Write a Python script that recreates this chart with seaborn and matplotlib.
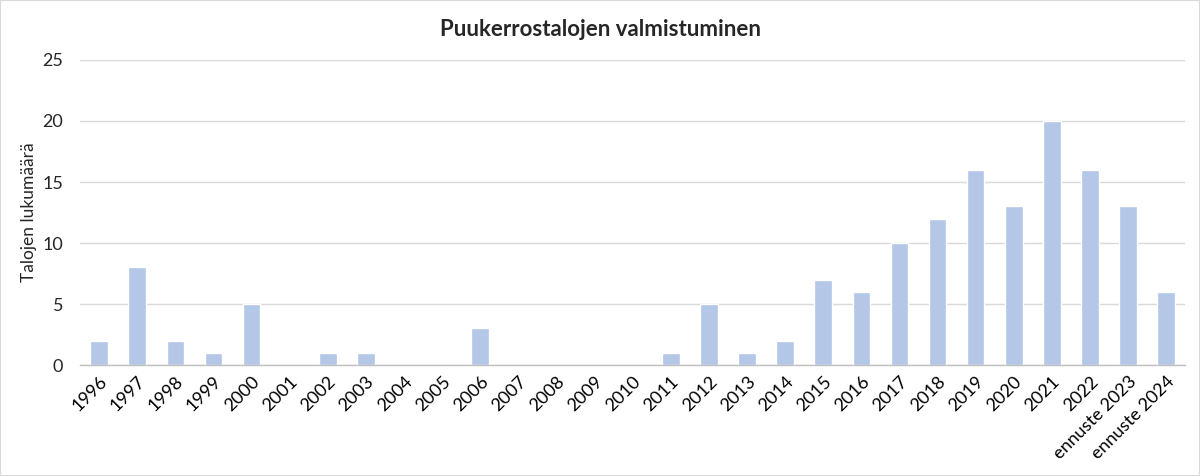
import numpy as np
import pandas as pd
import matplotlib
matplotlib.use('Agg')
import matplotlib.pyplot as plt
import seaborn as sns
from matplotlib.ticker import FixedLocator

# Data
years = ['1996', '1997', '1998', '1999', '2000', '2001', '2002', '2003', '2004',
         '2005', '2006', '2007', '2008', '2009', '2010', '2011', '2012', '2013',
         '2014', '2015', '2016', '2017', '2018', '2019', '2020', '2021', '2022',
         'ennuste 2023', 'ennuste 2024']
counts = [2, 8, 2, 1, 5, 0, 1, 1, 0, 0, 3, 0, 0, 0, 0, 1, 5, 1, 2, 7, 6, 10,
          12, 16, 13, 20, 16, 13, 6]

df = pd.DataFrame({'vuosi': years, 'lukumaara': counts})

sns.set_style('white')
plt.rcParams['font.family'] = ['Lato', 'DejaVu Sans']

fig = plt.figure(figsize=(12, 4.76), dpi=100)
ax = fig.add_axes([0.0667, 0.233, 0.921, 0.641])

sns.barplot(data=df, x='vuosi', y='lukumaara', color='#B4C7E7', width=0.46,
            saturation=1, ax=ax, zorder=2)

ax.set_ylim(0, 25)
ax.set_yticks(range(0, 26, 5))
ax.set_xlim(-0.5, len(years) - 0.5)
ax.yaxis.grid(True, color='#D9D9D9', linewidth=1, zorder=0)
ax.set_axisbelow(True)

for s in ['top', 'right', 'left']:
    ax.spines[s].set_visible(False)
ax.spines['bottom'].set_color('#BFBFBF')
ax.spines['bottom'].set_linewidth(1)

# Excel style: tick marks between categories
ax.xaxis.set_minor_locator(FixedLocator(np.arange(-0.5, len(years), 1)))
ax.tick_params(axis='x', which='major', length=0, pad=6)
ax.tick_params(axis='x', which='minor', length=5, color='#BFBFBF', width=1)
ax.tick_params(axis='y', length=0, pad=12)

ax.set_xticks(range(len(years)))
ax.set_xticklabels(years, rotation=45, ha='right', rotation_mode='anchor',
                   fontsize=13, color='#000000')
for lbl in ax.get_yticklabels():
    lbl.set_fontsize(13)

ax.set_xlabel('')
ax.set_ylabel('Talojen lukumäärä', fontsize=12.5, labelpad=4)

fig.suptitle('Puukerrostalojen valmistuminen', fontsize=16, fontweight='bold', y=0.96)

fig.patches.append(plt.Rectangle((0, 0), 1, 1, transform=fig.transFigure,
                                 fill=False, edgecolor='#D9D9D9', linewidth=1.5))

fig.savefig('out.png', dpi=100)
